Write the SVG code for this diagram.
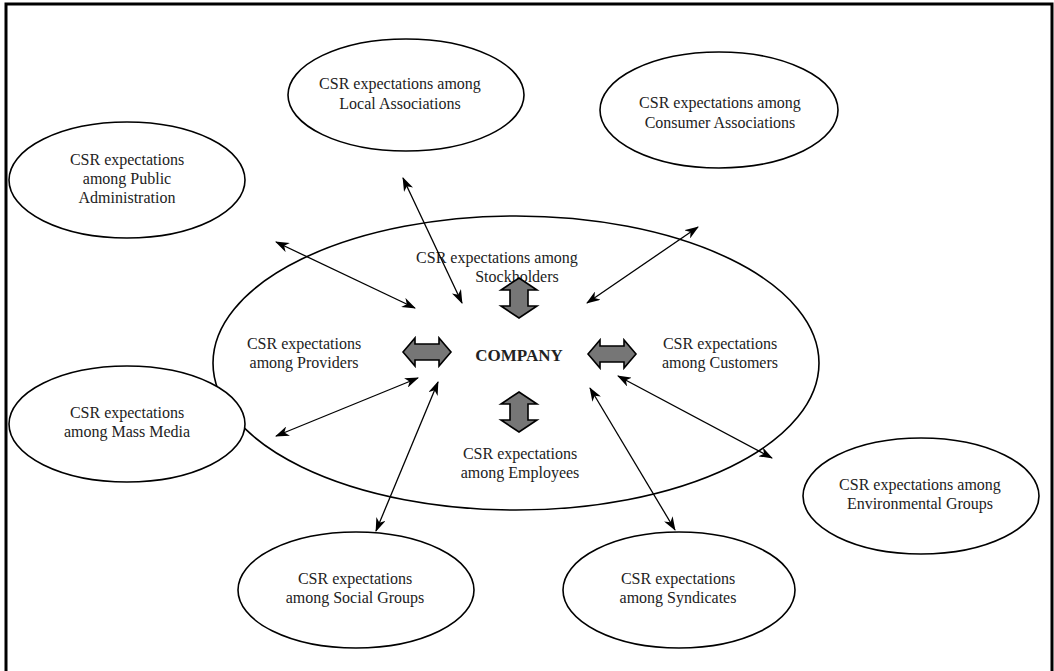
<svg xmlns="http://www.w3.org/2000/svg" width="1054" height="671" viewBox="0 0 1054 671">
<defs>
<style>
.node{fill:#fff;stroke:#000;stroke-width:1.6}
.t{font-family:"Liberation Serif","Times New Roman",serif;font-size:16px;fill:#222;text-anchor:middle}
.b{font-weight:bold;font-size:17px}
.conn{stroke:#000;stroke-width:1.3;fill:none;marker-start:url(#ah);marker-end:url(#ah)}
.blk{fill:#767676;stroke:#000;stroke-width:1.6;stroke-linejoin:miter}
</style>
<marker id="ah" viewBox="0 0 14 10" refX="13" refY="5" markerWidth="14" markerHeight="10" markerUnits="userSpaceOnUse" orient="auto-start-reverse">
<path d="M0,0 L14,5 L0,10 L4,5 Z" fill="#000"/>
</marker>
</defs>
<rect width="1054" height="671" fill="#fff"/>
<path d="M6,680 L6,4 L1052,4 L1052,680" fill="none" stroke="#000" stroke-width="3"/>

<g id="main">
<ellipse class="node" cx="516" cy="363" rx="303" ry="147"/>
<text class="t" x="497" y="263">CSR expectations among</text>
<text class="t" x="517" y="282">Stockholders</text>
<text class="t" x="304" y="349">CSR expectations</text>
<text class="t" x="304" y="368">among Providers</text>
<text class="t" x="720" y="349">CSR expectations</text>
<text class="t" x="720" y="368">among Customers</text>
<text class="t" x="520" y="459">CSR expectations</text>
<text class="t" x="520" y="478">among Employees</text>
<text class="t b" x="519" y="361">COMPANY</text>
</g>

<g id="block-arrows">
<path class="blk" d="M519,278 L537,290 L528,290 L528,306 L537,306 L519,318 L501,306 L510,306 L510,290 L501,290 Z"/>
<path class="blk" d="M519,392 L537,404 L528,404 L528,420 L537,420 L519,432 L501,420 L510,420 L510,404 L501,404 Z"/>
<path class="blk" d="M403,352 L415,338 L415,344 L439,344 L439,338 L451,352 L439,366 L439,360 L415,360 L415,366 Z"/>
<path class="blk" d="M588,354 L600,340 L600,346 L624,346 L624,340 L636,354 L624,368 L624,362 L600,362 L600,368 Z"/>
</g>

<g id="local">
<ellipse class="node" cx="406" cy="95" rx="118" ry="56"/>
<text class="t" x="400" y="89">CSR expectations among</text>
<text class="t" x="400" y="109">Local Associations</text>
</g>
<g id="consumer">
<ellipse class="node" cx="719" cy="110" rx="119" ry="58"/>
<text class="t" x="720" y="108">CSR expectations among</text>
<text class="t" x="720" y="128">Consumer Associations</text>
</g>
<g id="public">
<ellipse class="node" cx="127" cy="180" rx="118" ry="58"/>
<text class="t" x="127" y="165">CSR expectations</text>
<text class="t" x="127" y="184">among Public</text>
<text class="t" x="127" y="203">Administration</text>
</g>
<g id="media">
<ellipse class="node" cx="127" cy="424" rx="118" ry="58"/>
<text class="t" x="127" y="418">CSR expectations</text>
<text class="t" x="127" y="437">among Mass Media</text>
</g>
<g id="social">
<ellipse class="node" cx="356" cy="590" rx="118" ry="58"/>
<text class="t" x="355" y="584">CSR expectations</text>
<text class="t" x="355" y="603">among Social Groups</text>
</g>
<g id="syndicates">
<ellipse class="node" cx="679" cy="590" rx="116" ry="58"/>
<text class="t" x="678" y="584">CSR expectations</text>
<text class="t" x="678" y="603">among Syndicates</text>
</g>
<g id="environmental">
<ellipse class="node" cx="921" cy="496" rx="118" ry="58"/>
<text class="t" x="920" y="490">CSR expectations among</text>
<text class="t" x="920" y="509">Environmental Groups</text>
</g>

<g id="connectors">
<line class="conn" x1="403" y1="178" x2="462" y2="303"/>
<line class="conn" x1="698" y1="227" x2="587" y2="303"/>
<line class="conn" x1="276" y1="242" x2="415" y2="308"/>
<line class="conn" x1="276" y1="436" x2="418" y2="378"/>
<line class="conn" x1="376" y1="531" x2="438" y2="382"/>
<line class="conn" x1="675" y1="530" x2="590" y2="388"/>
<line class="conn" x1="772" y1="458" x2="618" y2="376"/>
</g>
</svg>
